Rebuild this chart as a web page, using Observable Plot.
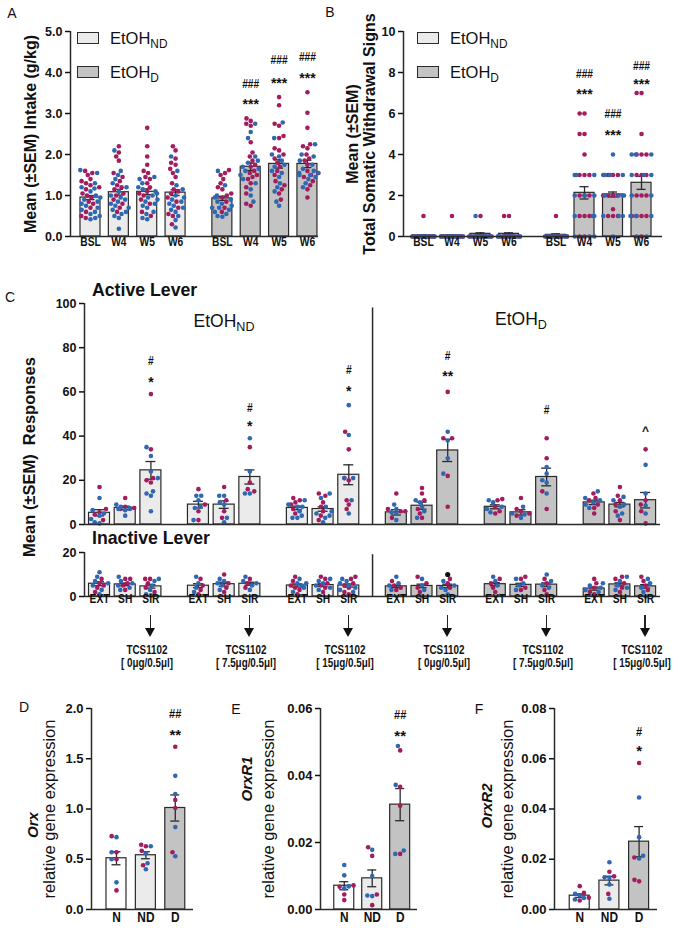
<!DOCTYPE html>
<html>
<head>
<meta charset="utf-8">
<script src="https://cdn.jsdelivr.net/npm/d3@7"></script>
<script src="https://cdn.jsdelivr.net/npm/@observablehq/plot@0.6"></script>
<style>
html,body{margin:0;padding:0;background:#fff;}
#fig{position:relative;width:685px;height:931px;overflow:hidden;background:#fff;font-family:"Liberation Sans",Arial,sans-serif;color:#111;}
#fig svg{overflow:visible;display:block;}
sub{font-size:0.72em;vertical-align:-0.32em;line-height:0;}
</style>
</head>
<body>
<div id="fig"></div>
<script>
// ---------------- DATA ----------------
// Panel A: ethanol intake (g/kg)
const weekLabels = ["BSL", "W4", "W5", "W6"];
const groupKeys = ["ND", "D"];
const intakeMeanND = [0.95, 1.08, 1.09, 1.07];
const intakeMeanD = [0.93, 1.70, 1.77, 1.77];
const intakeSemND = [0.05, 0.07, 0.07, 0.07];
const intakeSemD = [0.05, 0.09, 0.10, 0.09];
const intakeND_mag = [
  [1.60,1.55,1.50,1.40,1.35,1.30,1.25,1.20,1.15,1.05,1.00,0.95,0.85,0.80,0.70,0.60,0.50,0.45],
  [2.20,2.05,1.95,1.85,1.55,1.45,1.35,1.25,1.20,1.15,1.05,1.00,0.90,0.80,0.70,0.60],
  [2.65,2.20,1.95,1.75,1.60,1.55,1.45,1.40,1.30,1.20,1.10,1.05,1.00,0.90,0.80,0.60,0.50],
  [2.20,2.10,1.90,1.80,1.75,1.65,1.55,1.45,1.30,1.15,1.10,1.05,0.95,0.85,0.70,0.55,0.50,0.30]
];
const intakeND_blu = [
  [1.62,1.55,1.30,1.20,1.17,1.10,1.00,0.95,0.90,0.85,0.80,0.75,0.70,0.65,0.60,0.55,0.50,0.45,0.42],
  [2.10,1.60,1.50,1.40,1.30,1.20,1.10,1.00,0.95,0.90,0.85,0.80,0.75,0.70,0.65,0.60,0.55,0.50,0.45,0.19],
  [1.45,1.40,1.30,1.20,1.15,1.10,1.05,1.00,0.95,0.90,0.85,0.80,0.75,0.70,0.60,0.55,0.45,0.42],
  [1.95,1.60,1.25,1.15,1.00,0.95,0.90,0.85,0.80,0.75,0.70,0.65,0.60,0.50,0.40,0.22]
];
const intakeD_mag = [
  [1.62,1.55,1.50,1.40,1.30,1.20,1.15,1.05,1.00,0.95,0.85,0.70,0.60],
  [2.88,2.82,2.75,2.70,2.30,2.05,1.95,1.85,1.75,1.70,1.60,1.55,1.50,1.45,1.40,1.30,1.20,1.05,0.80,0.75],
  [3.40,3.20,2.75,2.70,2.45,2.40,2.15,2.10,2.00,1.90,1.80,1.70,1.60,1.50,1.35,1.25,1.15,1.05,0.90],
  [3.52,3.02,2.65,2.25,2.20,2.15,2.00,1.90,1.85,1.75,1.60,1.55,1.50,1.45,1.35,1.25,1.15,0.95]
];
const intakeD_blu = [
  [1.60,1.25,1.00,0.95,0.90,0.85,0.80,0.75,0.70,0.70,0.65,0.60,0.55,0.50,0.48],
  [2.75,2.55,2.40,1.95,1.85,1.80,1.70,1.65,1.60,1.50,1.40,1.30,1.15,1.00,0.85],
  [2.78,2.40,2.00,1.95,1.85,1.75,1.70,1.60,1.55,1.45,1.30,1.20,1.10,0.85,0.75],
  [2.25,2.00,1.95,1.85,1.75,1.65,1.60,1.55,1.55,1.50,1.50,1.45,1.40,1.30,1.20]
];
const intakeStarD = ["", "***", "***", "***"];
const intakeStarY = [null, 3.32, 3.84, 3.96];
const intakeHashD = ["", "###", "###", "###"];
const intakeHashY = [null, 3.63, 4.20, 4.28];

// Panel B: somatic withdrawal signs
const signsMeanND = [0.05, 0.05, 0.13, 0.13];
const signsMeanD = [0.08, 2.13, 2.05, 2.62];
const signsSemND = [0.03, 0.03, 0.05, 0.05];
const signsSemD = [0.05, 0.30, 0.12, 0.32];
const signsND_mag = [[1,0,0,0,0,0,0,0,0,0,0,0],[1,0,0,0,0,0,0,0,0,0,0,0],[1,0,0,0,0,0,0,0,0,0,0],[1,1,0,0,0,0,0,0,0,0,0]];
const signsND_blu = [[0,0,0,0,0,0,0,0,0,0,0],[0,0,0,0,0,0,0,0,0,0,0],[1,0,0,0,0,0,0,0,0,0,0],[0,0,0,0,0,0,0,0,0,0]];
const signsD_mag = [[1,0,0,0,0,0,0,0,0,0],[6,6,5,5,4,3,3,3,2,2,2,1,1,1,0,0],[3,3,3,2,2,2,2,1.33,1,1,1],[7,7,5,4,4,4,3,3,3,2,2,2,1,1,1,1,0]];
const signsD_blu = [[0,0,0,0,0,0,0,0,0],[3,3,3,2,2,2,1,1,1,0,0,0],[4,3,3,3,3,2,2,2,2,1,1,1,0],[4,4,4,3,3,3,2,2,1,1,1,0,0]];
const signsStarY = [null, 7.12, 5.12, 7.60];
const signsHashY = [null, 7.71, 5.76, 8.10];

// Panel C: lever responses (6 groups: ND 0/7.5/15, D 0/7.5/15) x (EXT, SH, SIR)
const condLabels = ["EXT", "SH", "SIR"];
const doseLabels = ["[ 0μg/0.5μl]", "[ 7.5μg/0.5μl]", "[ 15μg/0.5μl]"];
const drugName = "TCS1102";
const activeMean = [[5.3,7.5,24.5],[9,9,21.5],[7.5,7,22.5],[5.5,8.5,33.5],[8,5.5,21.5],[10,9,11]];
const activeSem = [[1.4,0.8,4.0],[1.5,1.7,3.2],[0.8,1.0,4.5],[1.2,1.6,5.0],[0.9,1.2,4.0],[1.0,1.0,3.5]];
const activeMag = [
  [[17,7,4.5,2,5.5],[12,8,7,7.5],[59,34,21,19,20]],
  [[16,9,6,2],[17,11,6,3],[35,19,15,16]],
  [[12,11,10,9,7,5],[14,13,10,6,4,2,8],[42,34,21,20,11,9,7]],
  [[14,7,6,3,6],[16.5,14,11,7,5,3],[60,39,39,22,8]],
  [[11.5,11,8,6,5],[12,7,5,4,6],[39,30,15,7]],
  [[14,12,11,7.5,5,9],[17,13,11,9,6,2],[34,11,9,6,0.5]]
];
const activeBlu = [
  [[12,6.5,5,2.5,1,0.5,4],[9,8,7.5,7,6.5,4,7],[35,31,24,21,15,14,6,13]],
  [[13,13,11,8,7.5,2],[13,13,10,9,3,1],[39,24,14,14]],
  [[11,9,8,6,4,3,3,8],[14,12,8,6,4,3,1,5],[54,40.5,21,21,11,5]],
  [[9,5.5,5,2,7],[11,10,8,6,3],[42,38,30,23]],
  [[11,10,8,5.5,7],[8,5,4.5,3],[26,23,20,14,19]],
  [[15,12,11,10,7.5,9],[12.5,11,9,8,5,4],[27,14,8.6,5]]
];
const activeStarText = ["*", "*", "*", "**", "", ""];
const activeStarY = [66, 46, 62, 68.6, null, null];
const activeHashText = ["#", "#", "#", "#", "#", "^"];
const activeHashY = [72, 51, 68, 74.5, 50, 43.6];
const inactiveMean = [[5.8,5.5,4.6],[4.9,5.6,5.8],[5.0,5.2,5.0],[4.6,4.8,4.8],[5.6,5.3,5.4],[3.6,5.5,4.6]];
const inactiveSem = [[0.9,0.6,0.8],[0.9,0.9,0.7],[0.7,0.6,0.7],[0.5,0.8,0.8],[0.7,0.7,0.8],[0.7,0.7,0.8]];
const inactiveMag = [
  [[8,6,4,2,5],[8,8,6,5,3],[8,8,6,4,2]],
  [[8,5,3,1],[10,6,4,2],[8,6,4]],
  [[9,7,5,3,1,4],[9,8,6,4,2,5],[9,8,6,4,2,1,5]],
  [[7,5,4,3],[9,6,4,2],[8,6,4]],
  [[8,6,4,2],[9,8,4,3],[8,6,3,1]],
  [[8,6,4,2,1],[9,8,6,4,2],[9,7,5,3]]
];
const inactiveBlu = [
  [[11,9,7,5,3,1,6],[9,7,6,4,3,5],[8,7,5,3,1,0.5]],
  [[9,6,4,2],[8,7,6,5,3],[9,7,6,5,3]],
  [[8,6,5,4,2,6],[8,7,6,5,3,4],[8,7,6,5,3,4,2]],
  [[9,6,5,3],[8,5,3,0],[7,5,4,3,1]],
  [[9,7,5],[8,6,5,3],[10,7,5,4]],
  [[6,5,3,2,4],[9,7,5,4,3],[8,6,4,2,0]]
];
const inactiveOutlierGroup = [3];
const inactiveOutlierCond = [2];
const inactiveOutlierValue = [10];

// Panels D-F: relative gene expression
const geneGroups = ["N", "ND", "D"];
const orxMean = [0.51, 0.54, 1.01];
const orxSem = [0.065, 0.035, 0.13];
const orxMag = [[0.73,0.57,0.50,0.19],[0.645,0.63,0.585,0.44],[1.62,1.09,1.01,0.57]];
const orxBlu = [[0.72,0.57,0.50,0.27],[0.63,0.56,0.46,0.40],[1.33,1.15,0.82,0.53]];
const orxR1Mean = [0.0071, 0.0093, 0.0313];
const orxR1Sem = [0.0012, 0.0025, 0.0048];
const orxR1Mag = [[0.0072,0.0068,0.0045,0.0028],[0.0186,0.0160,0.0045,0.0013],[0.0475,0.0366,0.0310,0.0166]];
const orxR1Blu = [[0.0133,0.0102,0.0069,0.0063],[0.0178,0.0100,0.0042,0.0040],[0.0488,0.0372,0.0176,0.0166]];
const orxR2Mean = [0.0055, 0.0115, 0.0270];
const orxR2Sem = [0.0007, 0.0017, 0.0060];
const orxR2Mag = [[0.0093,0.0066,0.0047,0.0036],[0.0150,0.0132,0.0062],[0.0583,0.0207,0.0118,0.0112]];
const orxR2Blu = [[0.0062,0.0056,0.0046,0.0040],[0.0188,0.0128,0.0126,0.0100,0.0043],[0.0446,0.0288,0.0214,0.0203]];
const geneHashText = ["##", "##", "#"];
const geneStarText = ["**", "**", "*"];
const geneHashY = [1.907, 0.0569, 0.0692];
const geneStarY = [1.774, 0.0529, 0.0647];

// ---------------- STYLE ----------------
const SANS = '"Liberation Sans",Arial,Helvetica,sans-serif';
const SQ = 0.82; // horizontal condensing of category labels
const MAG = "#a21c5e", BLU = "#2f67b1";
const FILL_N = "#ffffff", FILL_ND = "#ebebeb", FILL_D = "#c3c3c3";
const EDGE = "#2a2a2a";
const fig = document.getElementById("fig");

function pts(mag, blu) { return [...mag.map(v => ({v, c: MAG})), ...blu.map(v => ({v, c: BLU}))]; }
function pxOf(c) { return {px: (c.W - c.ml - c.mr) / (c.xd[1] - c.xd[0]), py: (c.H - c.mt - c.mb) / (c.yd[1] - c.yd[0])}; }

// deterministic beeswarm (pixel space), returns points with x in data units
function swarm(list, cx, px, py, r, maxHalf) {
  const dmin = 2 * r + 0.3;
  const order = list.map((p, i) => i).sort((a, b) => list[a].v - list[b].v);
  const placed = [], res = new Array(list.length);
  order.forEach((idx, k) => {
    const p = list[idx], y = p.v * py, forb = [];
    for (const q of placed) {
      const dy = Math.abs(q.y - y);
      if (dy < dmin) { const w = Math.sqrt(dmin * dmin - dy * dy); forb.push([q.x - w, q.x + w]); }
    }
    const cands = [0];
    for (const [a, b] of forb) cands.push(a, b);
    cands.sort((a, b) => Math.abs(a) - Math.abs(b) || a - b);
    let x = null;
    for (const c of cands) {
      if (Math.abs(c) > maxHalf) continue;
      if (forb.every(([a, b]) => c <= a + 1e-6 || c >= b - 1e-6)) { x = c; break; }
    }
    if (x === null) x = (((k * 7) % 9) / 8 - 0.5) * 2 * maxHalf;
    placed.push({x, y});
    res[idx] = {...p, x: cx + x / px};
  });
  return res;
}

function barMarks(cfg, bars, r, spread) {
  const {px, py} = pxOf(cfg);
  const hw = cfg.barW / 2 / px, cap = cfg.capW / 2 / px;
  const dots = bars.flatMap(b => swarm(b.pts, b.x, px, py, r, spread));
  const eb = bars.filter(d => d.sem > 0);
  return [
    Plot.rectY(bars, {x1: d => d.x - hw, x2: d => d.x + hw, y1: 0, y2: "mean", fill: "fill", stroke: EDGE, strokeWidth: 1.2}),
    Plot.ruleX(eb, {x: "x", y1: d => Math.max(0, d.mean - d.sem), y2: d => d.mean + d.sem, stroke: EDGE, strokeWidth: 1.3}),
    Plot.ruleY(eb, {y: d => d.mean + d.sem, x1: d => d.x - cap, x2: d => d.x + cap, stroke: EDGE, strokeWidth: 1.3}),
    Plot.ruleY(eb, {y: d => d.mean - d.sem, x1: d => d.x - cap, x2: d => d.x + cap, stroke: EDGE, strokeWidth: 1.3}),
    Plot.dot(dots, {x: "x", y: "v", fill: "c", r}),
    Plot.ruleY([cfg.yd[0]], {stroke: EDGE, strokeWidth: 1.5}),
    Plot.ruleX([cfg.xd[0]], {stroke: EDGE, strokeWidth: 1.5})
  ];
}

// condense (scaleX) the category tick labels and '#' annotations, like the reference's narrow font
function condense(svg) {
  svg.querySelectorAll("text").forEach(t => {
    const tr = t.getAttribute("transform") || "";
    if (tr.includes("rotate")) return;
    const g = t.closest("g[aria-label]");
    const lab = g ? g.getAttribute("aria-label") : "";
    const isX = lab === "x-axis tick label";
    const isHash = /#/.test(t.textContent);
    if (!isX && !isHash) return;
    const x = +t.getAttribute("x") || 0, y = +t.getAttribute("y") || 0;
    t.removeAttribute("x"); t.removeAttribute("y");
    t.setAttribute("transform", `${tr} translate(${x},${y}) scale(${SQ},1)`);
  });
}
function mount(svg, left, top) {
  condense(svg);
  const w = document.createElement("div");
  w.style.cssText = `position:absolute;left:${left}px;top:${top}px;`;
  w.appendChild(svg);
  fig.appendChild(w);
  return svg;
}
function txt(html, x, y, css = "", anchor = "middle", sx = 1) {
  const d = document.createElement("div");
  const tx = anchor === "start" ? "0" : anchor === "end" ? "-100%" : "-50%";
  d.style.cssText = `position:absolute;left:${x}px;top:${y}px;line-height:1;white-space:pre;transform-origin:0 0;transform:${sx !== 1 ? `scale(${sx},1) ` : ""}translate(${tx},-50%);${css}`;
  d.innerHTML = html;
  fig.appendChild(d);
  return d;
}
function box(x, y, w, h, css) {
  const d = document.createElement("div");
  d.style.cssText = `position:absolute;left:${x}px;top:${y}px;width:${w}px;height:${h}px;box-sizing:border-box;${css}`;
  fig.appendChild(d);
}
function vtitle(text, x, y, css) {
  const d = document.createElement("div");
  d.style.cssText = `position:absolute;left:${x}px;top:${y}px;line-height:1;white-space:pre;transform:translate(-50%,-50%) rotate(-90deg);${css}`;
  d.innerHTML = text;
  fig.appendChild(d);
}
const baseStyle = {background: "transparent", overflow: "visible", fontFamily: SANS, color: "#111"};

// ---------------- PANEL A & B ----------------
const gapUnits = 4.65;
function weekBars(meanND, meanD, semND, semD, magND, bluND, magD, bluD) {
  const out = [];
  groupKeys.forEach((g, gi) => weekLabels.forEach((w, wi) => out.push({
    x: gi * gapUnits + wi, label: w, group: g,
    mean: (gi ? meanD : meanND)[wi], sem: (gi ? semD : semND)[wi],
    fill: gi ? FILL_D : FILL_ND,
    pts: pts((gi ? magD : magND)[wi], (gi ? bluD : bluND)[wi])
  })));
  return out;
}
function annot(bars, texts, ys) {
  return bars.filter(b => b.group === "D").map((b, i) => ({x: b.x, y: ys[i], t: texts[i]})).filter(d => d.t && d.y != null);
}
const vt = {textAnchor: "middle", frameAnchor: "left", rotate: -90, fontFamily: SANS};

const cfgA = {W: 340, H: 300, ml: 70, mr: 22, mt: 31, mb: 64, xd: [-0.705, 8.04], yd: [0, 5], barW: 20, capW: 9};
const barsA = weekBars(intakeMeanND, intakeMeanD, intakeSemND, intakeSemD, intakeND_mag, intakeND_blu, intakeD_mag, intakeD_blu);
const labA = new Map(barsA.map(b => [b.x, b.label]));
const plotA = Plot.plot({
  width: cfgA.W, height: cfgA.H, marginLeft: cfgA.ml, marginRight: cfgA.mr, marginTop: cfgA.mt, marginBottom: cfgA.mb,
  x: {type: "linear", domain: cfgA.xd}, y: {domain: cfgA.yd}, color: {type: "identity"}, style: baseStyle,
  marks: [
    ...barMarks(cfgA, barsA, 2.3, 11),
    Plot.axisY({ticks: [0, 1, 2, 3, 4, 5], tickSize: 5, tickPadding: 3, fontSize: 12.5, fontWeight: "bold", strokeWidth: 1.5, label: null}),
    Plot.axisX({ticks: barsA.map(b => b.x), tickFormat: d => labA.get(d), tickSize: 0, tickPadding: 9, fontSize: 12.5, fontWeight: "bold", label: null}),
    Plot.text(annot(barsA, intakeHashD, intakeHashY), {x: "x", y: "y", text: "t", fontSize: 12.5, fontWeight: "bold"}),
    Plot.text(annot(barsA, intakeStarD, intakeStarY), {x: "x", y: "y", text: "t", fontSize: 14, fontWeight: "bold", dy: 4}),
    Plot.text(["Mean (±SEM) Intake (g/kg)"], {...vt, text: d => d, dx: -40, fontSize: 16, fontWeight: "bold"})
  ]
});
mount(plotA, 0, 0);

const cfgB = {W: 345, H: 300, ml: 63, mr: 23, mt: 31, mb: 64, xd: [-0.70, 8.386], yd: [0, 10], barW: 20, capW: 9};
const barsB = weekBars(signsMeanND, signsMeanD, signsSemND, signsSemD, signsND_mag, signsND_blu, signsD_mag, signsD_blu);
const labB = new Map(barsB.map(b => [b.x, b.label]));
const plotB = Plot.plot({
  width: cfgB.W, height: cfgB.H, marginLeft: cfgB.ml, marginRight: cfgB.mr, marginTop: cfgB.mt, marginBottom: cfgB.mb,
  x: {type: "linear", domain: cfgB.xd}, y: {domain: cfgB.yd}, color: {type: "identity"}, style: baseStyle,
  marks: [
    ...barMarks(cfgB, barsB, 2.3, 11),
    Plot.axisY({ticks: [0, 2, 4, 6, 8, 10], tickSize: 5, tickPadding: 3, fontSize: 12.5, fontWeight: "bold", strokeWidth: 1.5, label: null}),
    Plot.axisX({ticks: barsB.map(b => b.x), tickFormat: d => labB.get(d), tickSize: 0, tickPadding: 9, fontSize: 12.5, fontWeight: "bold", label: null}),
    Plot.text(annot(barsB, intakeHashD, signsHashY), {x: "x", y: "y", text: "t", fontSize: 12.5, fontWeight: "bold"}),
    Plot.text(annot(barsB, intakeStarD, signsStarY), {x: "x", y: "y", text: "t", fontSize: 14, fontWeight: "bold", dy: 4}),
    Plot.text(["Mean (±SEM)"], {...vt, text: d => d, dx: -51, fontSize: 16, fontWeight: "bold"}),
    Plot.text(["Total Somatic Withdrawal Signs"], {...vt, text: d => d, dx: -34, fontSize: 16, fontWeight: "bold"})
  ]
});
mount(plotB, 340, 0);

// legends A, B
[["ND", FILL_ND, 37.5, 31.5], ["D", FILL_D, 71.5, 65.5]].forEach(([sub, fill, ty, by]) => {
  [0, 340].forEach(off => {
    box(77 + off, by, 22, 12, `background:${fill};border:1.2px solid ${EDGE};`);
    txt(`EtOH<sub>${sub}</sub>`, 110 + off, ty, "font-size:16.5px;", "start");
  });
});

// ---------------- PANEL C ----------------
const groupStep = 3.85;
const cfgCa = {W: 685, H: 240, ml: 84, mr: 25, mt: 10, mb: 9, xd: [-0.584, 21.83], yd: [0, 100], barW: 21, capW: 10};
const cfgCi = {W: 685, H: 74, ml: 84, mr: 25, mt: 10, mb: 20, xd: [-0.584, 21.83], yd: [0, 20], barW: 21, capW: 10};
const barsAct = [], barsIn = [];
for (let g = 0; g < 6; g++) for (let i = 0; i < 3; i++) {
  const x = g * groupStep + i, fill = g < 3 ? FILL_ND : FILL_D;
  barsAct.push({x, g, i, label: condLabels[i], mean: activeMean[g][i], sem: activeSem[g][i], fill, pts: pts(activeMag[g][i], activeBlu[g][i])});
  barsIn.push({x, g, i, label: condLabels[i], mean: inactiveMean[g][i], sem: inactiveSem[g][i], fill, pts: pts(inactiveMag[g][i], inactiveBlu[g][i])});
}
const dividerX = ((2 * groupStep + 2) + 3 * groupStep) / 2;
const sirX = g => g * groupStep + 2;
const starC = activeStarText.map((t, g) => ({x: sirX(g), y: activeStarY[g], t})).filter(d => d.t);
const hashC = activeHashText.map((t, g) => ({x: sirX(g), y: activeHashY[g], t}));
const plotCa = Plot.plot({
  width: cfgCa.W, height: cfgCa.H, marginLeft: cfgCa.ml, marginRight: cfgCa.mr, marginTop: cfgCa.mt, marginBottom: cfgCa.mb,
  x: {type: "linear", domain: cfgCa.xd, axis: null}, y: {domain: cfgCa.yd}, color: {type: "identity"}, style: baseStyle,
  marks: [
    ...barMarks(cfgCa, barsAct, 2.3, 9),
    Plot.ruleX([dividerX], {y1: 0, y2: 98, stroke: EDGE, strokeWidth: 1.5}),
    Plot.axisY({ticks: [0, 20, 40, 60, 80, 100], tickSize: 5, tickPadding: 3, fontSize: 12.5, fontWeight: "bold", strokeWidth: 1.5, label: null}),
    Plot.text(hashC.filter(d => d.t === "#"), {x: "x", y: "y", text: "t", fontSize: 12.5, fontWeight: "bold"}),
    Plot.text(hashC.filter(d => d.t === "^"), {x: "x", y: "y", text: "t", fontSize: 12, fontWeight: "bold", dy: 3}),
    Plot.text(starC, {x: "x", y: "y", text: "t", fontSize: 14, fontWeight: "bold", dy: 4})
  ]
});
mount(plotCa, 0, 293);

const labC = new Map(barsIn.map(b => [b.x, b.label]));
const outliers = inactiveOutlierGroup.map((g, k) => ({x: g * groupStep + inactiveOutlierCond[k], v: inactiveOutlierValue[k]}));
const plotCi = Plot.plot({
  width: cfgCi.W, height: cfgCi.H, marginLeft: cfgCi.ml, marginRight: cfgCi.mr, marginTop: cfgCi.mt, marginBottom: cfgCi.mb,
  x: {type: "linear", domain: cfgCi.xd}, y: {domain: cfgCi.yd}, color: {type: "identity"}, style: baseStyle,
  marks: [
    ...barMarks(cfgCi, barsIn, 2.3, 9),
    Plot.dot(outliers, {x: "x", y: "v", fill: "#111", r: 2.6}),
    Plot.ruleX([dividerX], {y1: 0, y2: 19, stroke: EDGE, strokeWidth: 1.5}),
    Plot.axisY({ticks: [0, 20], tickSize: 5, tickPadding: 3, fontSize: 12.5, fontWeight: "bold", strokeWidth: 1.5, label: null}),
    Plot.axisX({ticks: barsIn.map(b => b.x), tickFormat: d => labC.get(d), tickSize: 0, tickPadding: 6, fontSize: 12.5, fontWeight: "bold", label: null})
  ]
});
mount(plotCi, 0, 542);

// Panel C texts
txt("Active Lever", 92, 291, "font-size:17.7px;font-weight:bold;", "start");
txt("Inactive Lever", 92, 539, "font-size:17.7px;font-weight:bold;", "start");
txt("EtOH<sub>ND</sub>", 224, 322, "font-size:17.5px;");
txt("EtOH<sub>D</sub>", 521, 320, "font-size:17.5px;");
vtitle("Mean (±SEM)  Responses", 28.5, 457, "font-size:16.5px;font-weight:bold;");

// arrows + drug labels under each SIR bar
const sxC = plotCi.scale("x");
for (let g = 0; g < 6; g++) {
  const cx = sxC.apply(sirX(g));
  box(cx - 0.6, 615, 1.2, 14, "background:#222;");
  box(cx - 5, 628, 10, 9, "width:0;height:0;border-left:5px solid transparent;border-right:5px solid transparent;border-top:9px solid #111;");
  txt(drugName, cx - 3, 650, "font-size:12px;font-weight:bold;", "middle", SQ);
  txt(doseLabels[g % 3], cx - 3, 663, "font-size:12px;font-weight:bold;", "middle", SQ);
}

// ---------------- PANELS D, E, F ----------------
function genePanel(left, ml, plotW, yd, ticks, fmt, mean, sem, mag, blu, k, title, dx1, dx2, dyTitle) {
  const cfg = {W: 230, H: 241, ml, mr: 230 - ml - plotW, mt: 18, mb: 22, xd: [-0.85, 2.62], yd, barW: 20, capW: 9};
  const fills = [FILL_N, FILL_ND, FILL_D];
  const bars = geneGroups.map((g, i) => ({x: i, label: g, mean: mean[i], sem: sem[i], fill: fills[i], pts: pts(mag[i], blu[i])}));
  const lab = new Map(bars.map(b => [b.x, b.label]));
  const p = Plot.plot({
    width: cfg.W, height: cfg.H, marginLeft: cfg.ml, marginRight: cfg.mr, marginTop: cfg.mt, marginBottom: cfg.mb,
    x: {type: "linear", domain: cfg.xd}, y: {domain: cfg.yd}, color: {type: "identity"}, style: baseStyle,
    marks: [
      ...barMarks(cfg, bars, 2.3, 10),
      Plot.axisY({ticks, tickFormat: d3.format(fmt), tickSize: 5, tickPadding: 3, fontSize: 13, fontWeight: "bold", strokeWidth: 1.5, label: null}),
      Plot.axisX({ticks: bars.map(b => b.x), tickFormat: d => lab.get(d), tickSize: 0, tickPadding: 12, fontSize: 14.5, fontWeight: "bold", label: null}),
      Plot.text([{x: 2, y: geneHashY[k], t: geneHashText[k]}], {x: "x", y: "y", text: "t", fontSize: 13.5, fontWeight: "bold"}),
      Plot.text([{x: 2, y: geneStarY[k], t: geneStarText[k]}], {x: "x", y: "y", text: "t", fontSize: 15, fontWeight: "bold", dy: 4}),
      Plot.text([title], {...vt, text: d => d, dx: dx1, dy: dyTitle, fontSize: 15, fontWeight: "bold", fontStyle: "italic"}),
      Plot.text(["relative gene expression"], {...vt, text: d => d, dx: dx2, fontSize: 16.5})
    ]
  });
  mount(p, left, 690);
}
genePanel(0, 91, 102, [0, 2], [0, 0.5, 1, 1.5, 2], ".1f", orxMean, orxSem, orxMag, orxBlu, 0, "Orx", -58, -42, 16);
genePanel(230, 90, 97, [0, 0.06], [0, 0.02, 0.04, 0.06], ".2f", orxR1Mean, orxR1Sem, orxR1Mag, orxR1Blu, 1, "OrxR1", -73, -52, -30);
genePanel(455, 99, 103, [0, 0.08], [0, 0.02, 0.04, 0.06, 0.08], ".2f", orxR2Mean, orxR2Sem, orxR2Mag, orxR2Blu, 2, "OrxR2", -67, -47, -3);

// panel letters
[["A", 12, 13], ["B", 330, 12], ["C", 10, 297], ["D", 24, 707], ["E", 236, 709], ["F", 479, 709]].forEach(([t, x, y]) => txt(t, x, y, "font-size:14px;"));
</script>
</body>
</html>
